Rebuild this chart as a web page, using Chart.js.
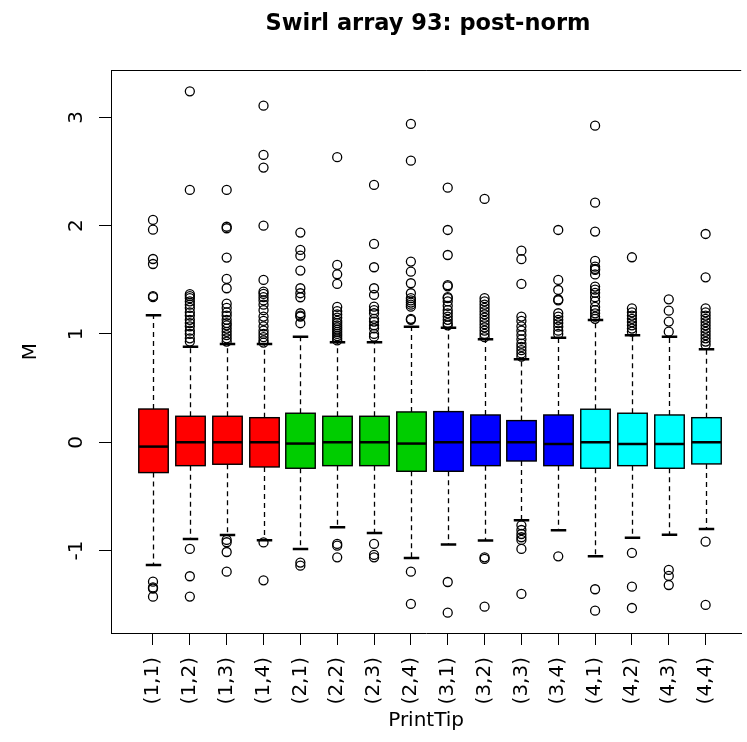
<!DOCTYPE html>
<html>
<head>
<meta charset="utf-8">
<script src="https://cdn.jsdelivr.net/npm/chart.js@4.4.1/dist/chart.umd.min.js"></script>
<style>
  html, body { margin: 0; padding: 0; background: #fff; overflow: hidden; }
</style>
</head>
<body>
<canvas id="chart" width="747" height="742"></canvas>
<script>
// print-tip groups, one box each
const categories = ['(1,1)', '(1,2)', '(1,3)', '(1,4)', '(2,1)', '(2,2)', '(2,3)', '(2,4)',
                    '(3,1)', '(3,2)', '(3,3)', '(3,4)', '(4,1)', '(4,2)', '(4,3)', '(4,4)'];
const rowColors = ['#FF0000', '#00CD00', '#0000FF', '#00FFFF'];

const q1 = [-0.28, -0.216, -0.203, -0.228, -0.24, -0.216, -0.216, -0.268,
            -0.268, -0.216, -0.173, -0.216, -0.24, -0.216, -0.24, -0.2];
const medians = [-0.04, 0, 0, 0, -0.012, 0, 0, -0.012,
                 0, 0, 0, -0.016, 0, -0.016, -0.016, 0];
const q3 = [0.307, 0.24, 0.24, 0.227, 0.268, 0.24, 0.24, 0.28,
            0.283, 0.252, 0.2, 0.252, 0.305, 0.268, 0.252, 0.227];
const whiskerLow = [-1.133, -0.893, -0.856, -0.905, -0.985, -0.785, -0.837, -1.068,
                    -0.945, -0.908, -0.72, -0.813, -1.053, -0.881, -0.853, -0.8];
const whiskerHigh = [1.172, 0.883, 0.908, 0.908, 0.975, 0.923, 0.923, 1.067,
                     1.058, 0.951, 0.766, 0.966, 1.129, 0.988, 0.975, 0.859];
const outliers = [
  [1.34, 1.35, 1.646, 1.692, 1.963, 2.053, -1.287, -1.34, -1.35, -1.426],
  [0.93, 0.96, 1.0, 1.03, 1.07, 1.1, 1.13, 1.17, 1.2, 1.24, 1.27, 1.3, 1.33, 1.35, 1.367, 2.33, 3.24, -0.985, -1.237, -1.425],
  [0.93, 0.96, 0.99, 1.02, 1.05, 1.08, 1.1, 1.13, 1.17, 1.2, 1.24, 1.28, 1.422, 1.508, 1.705, 1.976, 1.99, 2.33, -0.902, -0.923, -1.013, -1.195],
  [0.92, 0.94, 0.97, 1.0, 1.03, 1.07, 1.12, 1.16, 1.22, 1.27, 1.31, 1.34, 1.37, 1.39, 1.499, 2.0, 2.536, 2.653, 3.108, -0.925, -1.275],
  [1.099, 1.16, 1.17, 1.191, 1.339, 1.376, 1.422, 1.585, 1.723, 1.776, 1.936, -1.111, -1.139],
  [0.94, 0.96, 0.98, 1.0, 1.02, 1.04, 1.06, 1.08, 1.1, 1.12, 1.15, 1.18, 1.21, 1.25, 1.462, 1.551, 1.637, 2.632, -0.939, -0.955, -1.062],
  [0.975, 1.0, 1.052, 1.08, 1.114, 1.14, 1.191, 1.22, 1.252, 1.36, 1.422, 1.616, 1.831, 2.376, -0.939, -1.04, -1.062],
  [1.13, 1.14, 1.252, 1.27, 1.29, 1.31, 1.33, 1.376, 1.468, 1.575, 1.668, 2.6, 2.939, -1.195, -1.493],
  [1.08, 1.1, 1.13, 1.16, 1.19, 1.22, 1.26, 1.3, 1.33, 1.34, 1.44, 1.45, 1.729, 1.96, 2.351, -1.29, -1.573],
  [0.97, 1.0, 1.03, 1.06, 1.09, 1.12, 1.15, 1.18, 1.21, 1.24, 1.27, 1.3, 1.33, 2.247, -1.062, -1.077, -1.518],
  [0.79, 0.82, 0.85, 0.88, 0.91, 0.95, 0.99, 1.03, 1.07, 1.12, 1.16, 1.462, 1.69, 1.769, -0.767, -0.81, -0.847, -0.877, -0.902, -0.985, -1.40],
  [1.0, 1.03, 1.067, 1.1, 1.13, 1.16, 1.191, 1.31, 1.318, 1.406, 1.499, 1.96, -1.053],
  [1.14, 1.16, 1.19, 1.22, 1.25, 1.3, 1.34, 1.38, 1.41, 1.437, 1.55, 1.591, 1.6, 1.621, 1.674, 1.945, 2.212, 2.923, -1.357, -1.555],
  [1.021, 1.05, 1.08, 1.11, 1.14, 1.17, 1.2, 1.237, 1.708, -1.022, -1.333, -1.53],
  [1.021, 1.114, 1.215, 1.32, -1.179, -1.234, -1.318],
  [0.9, 0.93, 0.96, 0.99, 1.02, 1.05, 1.08, 1.11, 1.14, 1.17, 1.2, 1.237, 1.523, 1.923, -0.918, -1.502]
];
const yTicks = [-1, 0, 1, 2, 3];
const yRange = [-1.761, 3.437];
const xRange = [-0.14, 16.966];

const outlierPoints = [];
outliers.forEach((vals, i) => vals.forEach(v => outlierPoints.push({ x: i + 1, y: v })));

const labelFont = { family: '"DejaVu Sans", sans-serif', size: 20 };

// boxes, whiskers, staples, medians drawn from the arrays via the chart's scales
const boxplotPlugin = {
    id: 'boxplot',
    beforeDatasetsDraw(chart) {
        const { ctx, scales: { x, y } } = chart;
        const unit = x.getPixelForValue(1) - x.getPixelForValue(0);
        const half = unit * 0.4;
        const staple = unit * 0.21;
        ctx.save();
        ctx.strokeStyle = '#000';
        categories.forEach((c, i) => {
            const cx = Math.round(x.getPixelForValue(i + 1)) + 0.5;
            const top = y.getPixelForValue(q3[i]);
            const bot = y.getPixelForValue(q1[i]);
            const hi = y.getPixelForValue(whiskerHigh[i]);
            const lo = y.getPixelForValue(whiskerLow[i]);

            ctx.lineWidth = 1.3;
            ctx.setLineDash([5, 4]);
            ctx.beginPath();
            ctx.moveTo(cx, top); ctx.lineTo(cx, hi);
            ctx.moveTo(cx, bot); ctx.lineTo(cx, lo);
            ctx.stroke();
            ctx.setLineDash([]);

            ctx.lineWidth = 2.5;
            ctx.beginPath();
            ctx.moveTo(cx - staple, hi); ctx.lineTo(cx + staple, hi);
            ctx.moveTo(cx - staple, lo); ctx.lineTo(cx + staple, lo);
            ctx.stroke();

            ctx.fillStyle = rowColors[Math.floor(i / 4)];
            ctx.fillRect(cx - half, top, half * 2, bot - top);
            ctx.lineWidth = 1.4;
            ctx.strokeRect(cx - half, top, half * 2, bot - top);

            const med = y.getPixelForValue(medians[i]);
            ctx.lineWidth = 2.5;
            ctx.beginPath();
            ctx.moveTo(cx - half, med); ctx.lineTo(cx + half, med);
            ctx.stroke();
        });
        ctx.restore();
    },
    afterDraw(chart) {
        const { ctx, chartArea } = chart;
        ctx.save();
        // top edge of the plot frame
        ctx.strokeStyle = '#000';
        ctx.lineWidth = 1;
        ctx.beginPath();
        ctx.moveTo(chartArea.left, chartArea.top + 0.5);
        ctx.lineTo(chartArea.right, chartArea.top + 0.5);
        ctx.stroke();
        // main title, centred over the plot region
        ctx.fillStyle = '#000';
        ctx.font = 'bold 22.5px "DejaVu Sans", sans-serif';
        ctx.textAlign = 'center';
        ctx.textBaseline = 'alphabetic';
        ctx.fillText('Swirl array 93: post-norm', 428, 29.5);
        ctx.restore();
    }
};

new Chart(document.getElementById('chart'), {
    type: 'scatter',
    data: {
        datasets: [{
            label: 'outliers',
            data: outlierPoints,
            pointStyle: 'circle',
            pointRadius: 4.5,
            pointBorderWidth: 1.3,
            pointBorderColor: '#000',
            pointBackgroundColor: 'rgba(0,0,0,0)',
            pointHoverRadius: 4.5
        }]
    },
    options: {
        responsive: false,
        animation: false,
        devicePixelRatio: 1,
        events: [],
        layout: { padding: { top: 70, left: 0, right: 0, bottom: 0 } },
        plugins: {
            legend: { display: false },
            tooltip: { enabled: false },
            title: { display: false }
        },
        scales: {
            x: {
                type: 'linear',
                min: xRange[0],
                max: xRange[1],
                afterBuildTicks: (s) => { s.ticks = categories.map((c, i) => ({ value: i + 1 })); },
                afterFit: (s) => { s.height = 109; },
                grid: { drawOnChartArea: false, drawTicks: true, tickLength: 12, color: '#000', lineWidth: 1 },
                border: { display: true, color: '#000', width: 1 },
                ticks: {
                    autoSkip: false,
                    minRotation: 90,
                    maxRotation: 90,
                    padding: 12,
                    color: '#000',
                    font: labelFont,
                    callback: (v, idx) => categories[idx]
                },
                title: { display: true, text: 'PrintTip', color: '#000', font: labelFont, padding: { top: 0, bottom: 9 } }
            },
            y: {
                type: 'linear',
                min: yRange[0],
                max: yRange[1],
                afterBuildTicks: (s) => { s.ticks = yTicks.map(v => ({ value: v })); },
                afterFit: (s) => { s.width = 111; },
                grid: { drawOnChartArea: false, drawTicks: true, tickLength: 12, color: '#000', lineWidth: 1 },
                border: { display: true, color: '#000', width: 1 },
                ticks: {
                    minRotation: 90,
                    maxRotation: 90,
                    crossAlign: 'center',
                    padding: 12,
                    color: '#000',
                    font: labelFont,
                    callback: (v) => String(v)
                },
                title: { display: true, text: 'M', color: '#000', font: labelFont, padding: { top: 19, bottom: 0 } }
            }
        }
    },
    plugins: [boxplotPlugin]
});
</script>
</body>
</html>
